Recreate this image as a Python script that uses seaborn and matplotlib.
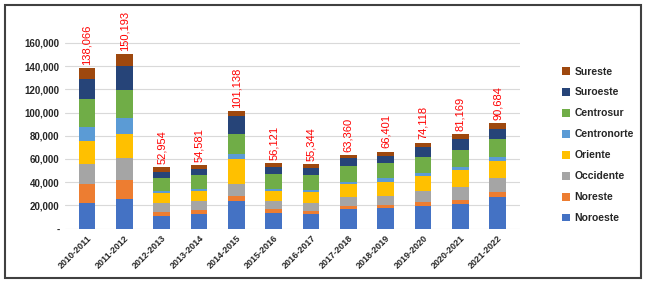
import pandas as pd
import seaborn as sns
import matplotlib.pyplot as plt
from matplotlib.patches import Rectangle

years = ['2010-2011', '2011-2012', '2012-2013', '2013-2014', '2014-2015', '2015-2016',
         '2016-2017', '2017-2018', '2018-2019', '2019-2020', '2020-2021', '2021-2022']

regions = ['Noroeste', 'Noreste', 'Occidente', 'Oriente', 'Centronorte', 'Centrosur', 'Suroeste', 'Sureste']
colors = ['#4472C4', '#ED7D31', '#A5A5A5', '#FFC000', '#5B9BD5', '#70AD47', '#264478', '#9E480E']

noroeste = [21700, 25900, 11100, 13000, 24200, 13100, 12600, 16800, 17600, 19900, 21300, 27400]
noreste = [16900, 15900, 2800, 3000, 4300, 3700, 2300, 2800, 2900, 3400, 3400, 4200]
occidente = [17100, 19000, 8500, 8000, 10000, 7100, 7200, 7800, 8000, 9400, 11200, 11600]
oriente = [19700, 20500, 8000, 8500, 21400, 8600, 9100, 10800, 11500, 12800, 14200, 15300]
centronorte = [12000, 13600, 2000, 1500, 4300, 2000, 2000, 2200, 3400, 2800, 2800, 3600]
centrosur = [24000, 24700, 10900, 12000, 17600, 12300, 13100, 13600, 12900, 13800, 15000, 14700]
suroeste = [17100, 20800, 5600, 5000, 15100, 6500, 6200, 6600, 6600, 8300, 9300, 9300]
sureste = [9566, 9793, 4054, 3581, 4238, 2821, 2844, 2760, 3501, 3718, 3969, 4584]

totals = [138066, 150193, 52954, 54581, 101138, 56121, 55344, 63360, 66401, 74118, 81169, 90684]

series = [noroeste, noreste, occidente, oriente, centronorte, centrosur, suroeste, sureste]

sns.set_style('white')
plt.rcParams['font.family'] = ['Liberation Sans', 'DejaVu Sans']

fig = plt.figure(figsize=(6.46, 2.84), dpi=100)
ax = fig.add_axes([0.10, 0.195, 0.705, 0.695])

bottom = pd.Series([0] * len(years), dtype=float)
for name, vals, col in zip(regions, series, colors):
    df = pd.DataFrame({'year': years, 'value': vals})
    sns.barplot(data=df, x='year', y='value', color=col, saturation=1, bottom=bottom.values,
                width=0.45, label=name, ax=ax, zorder=3, edgecolor='none')
    bottom += df['value']

# totals above each bar
for i, t in enumerate(totals):
    ax.text(i, bottom[i] + 3000, f'{t:,}', rotation=90, ha='center', va='bottom',
            color='#FF0000', fontsize=8, clip_on=False)

ax.set_ylim(0, 170000)
ax.set_xlim(-0.6, len(years) - 0.4)
ax.set_yticks(range(0, 160001, 20000))
ax.set_yticklabels(['-'] + [f'{v:,}' for v in range(20000, 160001, 20000)],
                   fontsize=7, fontweight='bold')
ax.grid(axis='y', color='#D9D9D9', linewidth=0.8, zorder=0)
ax.set_xlabel('')
ax.set_ylabel('')
ax.tick_params(axis='x', labelsize=6.5, rotation=45, length=0)
ax.tick_params(axis='y', length=0)
for lbl in ax.get_xticklabels():
    lbl.set_fontweight('bold')
    lbl.set_ha('right')
    lbl.set_rotation_mode('anchor')
sns.despine(ax=ax, left=True, bottom=True)

handles, labels = ax.get_legend_handles_labels()
fig.legend(handles[::-1], labels[::-1], loc='center left', bbox_to_anchor=(0.855, 0.49),
           frameon=False, prop={'size': 7.5, 'weight': 'bold'}, handlelength=0.8,
           handleheight=0.8, labelspacing=1.05, handletextpad=0.4)
if ax.get_legend():
    ax.get_legend().remove()

fig.patches.append(Rectangle((0.008, 0.02), 0.985, 0.962, transform=fig.transFigure,
                             fill=False, edgecolor='#404040', linewidth=1.5))

fig.savefig('out.png', dpi=100)
